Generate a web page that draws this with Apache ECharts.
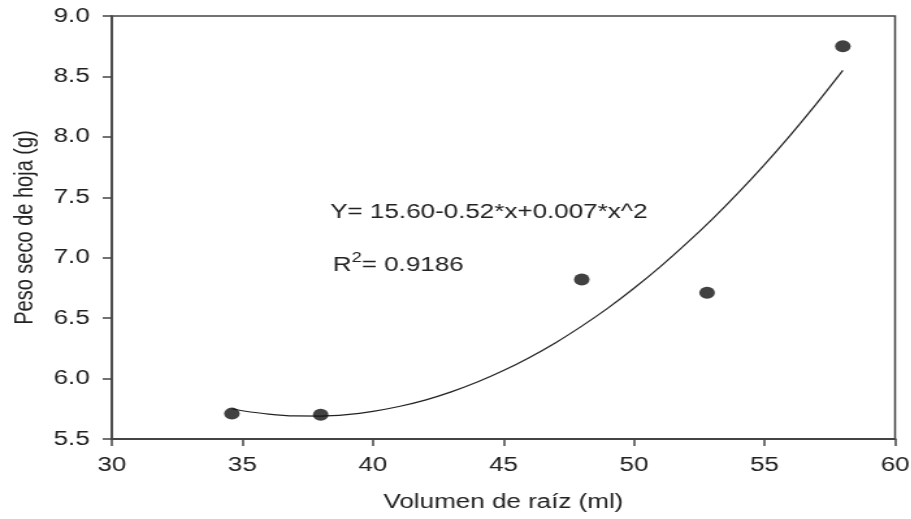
<!DOCTYPE html>
<html>
<head>
<meta charset="utf-8">
<script src="https://cdn.jsdelivr.net/npm/echarts@6/dist/echarts.min.js"></script>
<style>
  html, body { margin: 0; padding: 0; background: #fff; overflow: hidden; }
  /* the source figure is stretched sideways, so draw narrow and widen it */
  #container { width: 701px; height: 519px; transform: scaleX(1.3); transform-origin: 0 0; }
</style>
</head>
<body>
<div id="container"></div>
<script>
// measured points
let volumen = [34.6, 38.0, 48.0, 52.8, 58.0];
let peso = [5.71, 5.70, 6.82, 6.71, 8.75];

// fitted curve
let fitX = [34.6, 35, 36, 37, 38, 39, 40, 41, 42, 43, 44, 45, 46,
            47, 48, 49, 50, 51, 52, 53, 54, 55, 56, 57, 58];
let fitY = [5.750, 5.734, 5.706, 5.691, 5.690, 5.702, 5.729, 5.769, 5.822, 5.890, 5.971, 6.066, 6.175,
            6.297, 6.434, 6.583, 6.747, 6.924, 7.116, 7.320, 7.539, 7.771, 8.017, 8.277, 8.550];

let font = 'Liberation Sans, Arial, sans-serif';
let ink = '#222';

let dom = document.getElementById('container');
let chart = echarts.init(dom);

chart.setOption({
    animation: false,
    backgroundColor: '#fff',
    grid: {
        left: 86, right: 12.5, top: 16, bottom: 80,
        outerBoundsMode: 'none',
        show: true, borderColor: '#444', borderWidth: 1.5
    },
    xAxis: {
        type: 'value', min: 30, max: 60, interval: 5,
        name: 'Volumen de raíz (ml)', nameLocation: 'middle', nameGap: 53,
        nameTextStyle: { fontFamily: font, fontSize: 20, color: ink },
        axisLine: { lineStyle: { color: '#444', width: 2 } },
        axisTick: { length: 7, lineStyle: { color: '#444', width: 1.5 } },
        axisLabel: { fontFamily: font, fontSize: 20, color: ink, margin: 16 },
        splitLine: { show: false }
    },
    yAxis: {
        type: 'value', min: 5.5, max: 9.0, interval: 0.5,
        name: 'Peso seco de hoja (g)', nameLocation: 'middle', nameGap: 57,
        nameTextStyle: { fontFamily: font, fontSize: 20, color: ink },
        axisLine: { lineStyle: { color: '#444', width: 1.5 } },
        axisTick: { length: 7, lineStyle: { color: '#444', width: 1.5 } },
        axisLabel: { fontFamily: font, fontSize: 20, color: ink, margin: 17,
            formatter: (v) => v.toFixed(1) },
        splitLine: { show: false }
    },
    series: [{
        type: 'line',
        data: fitX.map((x, i) => [x, fitY[i]]),
        smooth: 0.3,
        showSymbol: false,
        lineStyle: { color: '#222', width: 1.2 },
        z: 2
    }, {
        type: 'scatter',
        data: volumen.map((x, i) => [x, peso[i]]),
        symbol: 'circle',
        symbolSize: 12,
        itemStyle: { color: '#111' },
        z: 3
    }],
    graphic: [{
        type: 'text', left: 254, top: 202,
        style: { text: 'Y= 15.60-0.52*x+0.007*x^2', fontFamily: font, fontSize: 20, fill: ink }
    }, {
        type: 'text', left: 256, top: 251,
        style: {
            text: '{a|R}{s|2}{a|= 0.9186}',
            rich: {
                a: { fontFamily: font, fontSize: 20, fill: ink, lineHeight: 24, verticalAlign: 'bottom' },
                s: { fontFamily: font, fontSize: 14, fill: ink, lineHeight: 24, verticalAlign: 'top' }
            }
        }
    }]
});
</script>
</body>
</html>
